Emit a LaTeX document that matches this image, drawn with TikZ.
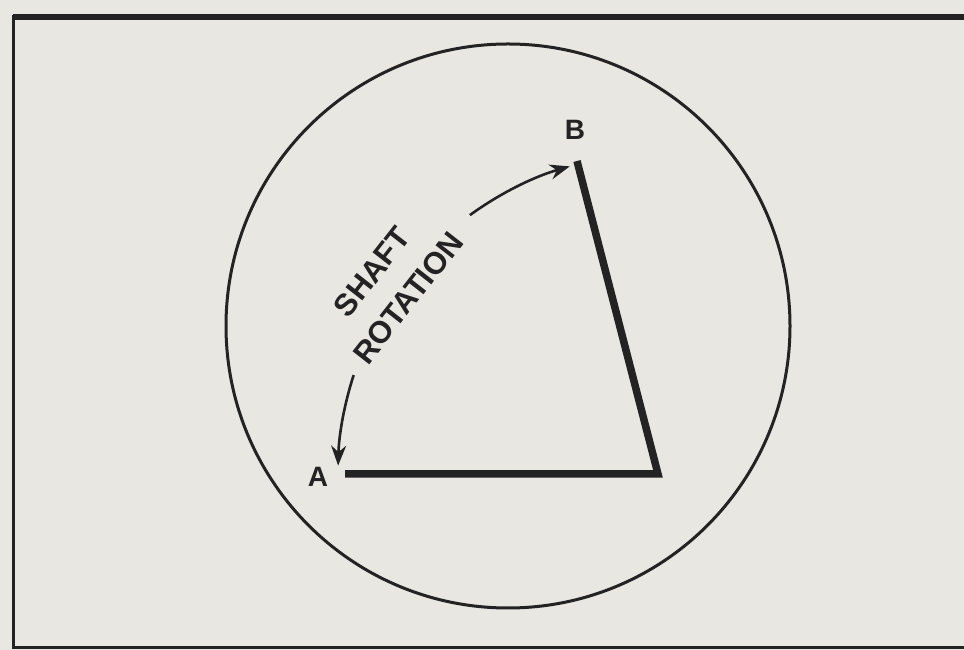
\documentclass[tikz,border=0pt]{standalone}
\usepackage{fontspec}
\setmainfont{Liberation Sans}
\usetikzlibrary{arrows.meta,calc}
\definecolor{paper}{HTML}{E9E7E2}
\definecolor{ink}{HTML}{232323}
\tikzset{
  thinline/.style={draw=ink, line width=3pt},
  heavyline/.style={draw=ink, line width=7.5pt, line join=miter},
  arcline/.style={draw=ink, line width=2.6pt, -{Stealth[length=20pt,width=15pt]}},
  lbl/.style={text=ink, font=\bfseries\fontsize{28}{42}\selectfont, inner sep=0pt},
  rotlbl/.style={lbl, rotate=52, font=\bfseries\fontsize{31}{42}\selectfont},
}
\begin{document}
\begin{tikzpicture}[x=1pt,y=1pt]
\useasboundingbox (0,0) rectangle (964,650);
\fill[paper] (0,0) rectangle (964,650);
% frame (open on the right)
\draw[draw=ink, line width=6pt] (970,633) -- (13,633);
\draw[thinline] (13,635) -- (13,2) -- (970,2);
% circle
\draw[draw=ink, line width=3pt] (508,324) circle (282);
% linkage
\coordinate (A) at (345,176);
\coordinate (C) at (658,176);
\coordinate (B) at (577,489);
\draw[heavyline] (A) -- (C) -- (B);
\node[lbl] (lA) at (318,173) {A};
\node[lbl] (lB) at (575,520) {B};
% rotation arrows about C
\coordinate (lowstart) at ($(C)+(162:320)$);
\coordinate (upstart) at ($(C)+(126:320)$);
\draw[arcline] (lowstart) arc[start angle=162, end angle=178.5, radius=320];
\draw[arcline] (upstart) arc[start angle=126, end angle=106, radius=320];
\node[rotlbl] (shaft) at (372,378) {SHAFT};
\node[rotlbl] (rotation) at (408,352) {ROTATION};
\end{tikzpicture}
\end{document}
